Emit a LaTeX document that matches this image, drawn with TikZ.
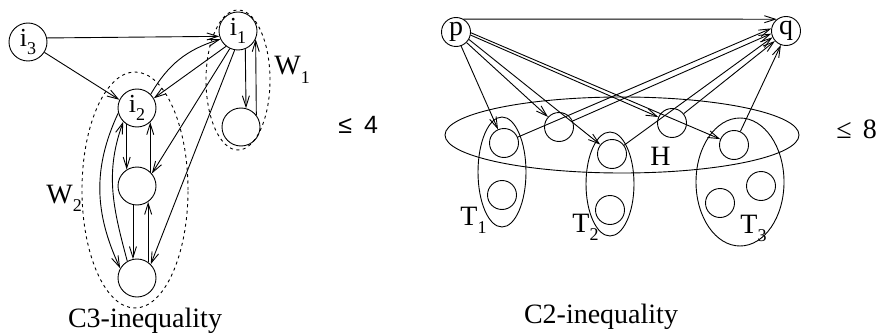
\documentclass[tikz,border=0pt]{standalone}
\usepackage{fontspec}
\setmainfont{Liberation Serif}
\newfontfamily\hvfont{Liberation Sans}
\usetikzlibrary{arrows.meta}

\newcommand{\lb}[2]{#1\raisebox{-0.32em}{\fontsize{18}{18}\selectfont #2}}

\begin{document}
\begin{tikzpicture}[x=1pt,y=1pt,line width=0.9pt,
    vx/.style={circle,draw,inner sep=0pt,minimum size=38pt,font=\fontsize{26}{26}\selectfont},
    hx/.style={circle,draw,inner sep=0pt,minimum size=29pt,font=\fontsize{28}{28}\selectfont},
    arr/.style={-{Straight Barb[length=11pt,width=7pt]}},
    grp/.style={draw,dash pattern=on 3pt off 3.5pt},
    txt/.style={font=\fontsize{28}{28}\selectfont,inner sep=0pt,anchor=base west}]
    \useasboundingbox (0,0) rectangle (877,-334);
    % C3 side
    \node[vx] (i3) at (28,-42) {\lb{i}{3}};
    \node[vx] (i1) at (238,-31) {\lb{i}{1}};
    \node[vx] (i2) at (137,-108) {\lb{i}{2}};
    \node[vx] (wa) at (241,-127) {};
    \node[vx] (ma) at (137,-186) {};
    \node[vx] (mb) at (137,-278) {};
    \draw[grp] (238,-80) ellipse [x radius=32pt,y radius=70pt];
    \draw[grp] (135,-190) ellipse [x radius=53pt,y radius=118pt];
    \node[txt] (w1) at (274,-75) {\lb{W}{1}};
    \node[txt] (w2) at (46,-203) {\lb{W}{2}};
    \draw[arr] (i3.12) -- (i1.196);
    \draw[arr] (i3) -- (i2.155);
    \draw[arr] (i2.45) to[out=60,in=197] (i1.205);
    \draw[arr] (i1.232) -- (i2.30);
    \draw[arr] (i1.-68) -- (wa.75);
    \draw[arr] (wa.38) -- (i1.-25);
    \draw[arr] (i1.-115) -- (ma.40);
    \draw[arr] (i1.-100) -- (mb.45);
    \draw[arr] (i2.-122) -- (ma.122);
    \draw[arr] (ma.47) -- (i2.-47);
    \draw[arr] (ma.-102) -- (mb.102);
    \draw[arr] (mb.55) -- (ma.-55);
    \draw[arr] (i2.195) to[out=245,in=115] (mb.150);
    \draw[arr] (mb.120) to[out=105,in=250] (i2.225);
    \node[txt,anchor=base] (c3) at (145,-327) {C3-inequality};
    \node[txt,font=\hvfont\fontsize{25}{25}\selectfont] (b4) at (338,-133) {≤\hspace{5pt} 4};
    % C2 side
    \node[hx] (p) at (456,-32) {p};
    \node[hx] (q) at (786,-31) {q};
    \node[hx] (h1) at (504,-143) {};
    \node[hx] (h2) at (559,-127) {};
    \node[hx] (h3) at (612,-154) {};
    \node[hx] (h4) at (672,-123) {};
    \node[hx] (h5) at (734,-145) {};
    \node[hx] (t1) at (502,-195) {};
    \node[hx] (t2) at (610,-210) {};
    \node[hx] (t3a) at (720,-203) {};
    \node[hx] (t3b) at (761,-186) {};
    \draw (622,-135) ellipse [x radius=177pt,y radius=38pt];
    \draw (502,-172) ellipse [x radius=24pt,y radius=55pt];
    \draw (610,-184) ellipse [x radius=24pt,y radius=52pt];
    \draw (740,-182) ellipse [x radius=44pt,y radius=64pt];
    \node[txt] (hl) at (650,-165) {H};
    \node[txt] (tl1) at (460,-225) {\lb{T}{1}};
    \node[txt] (tl2) at (572,-232) {\lb{T}{2}};
    \node[txt] (tl3) at (740,-233) {\lb{T}{3}};
    \draw[arr] (p.60) -- (q.128);
    \draw[arr] (p.-70) -- (h1);
    \draw[arr] (p.-45) -- (h2);
    \draw[arr] (p.-30) -- (h3);
    \draw[arr] (p.-12) -- (h4);
    \draw[arr] (p.-3) -- (h5);
    \draw[arr] (h1) -- (q.170);
    \draw[arr] (h2) -- (q.190);
    \draw[arr] (h3) -- (q.205);
    \draw[arr] (h4) -- (q.222);
    \draw[arr] (h5) -- (q.250);
    \node[txt,anchor=base] (c2) at (601,-323) {C2-inequality};
    \node[txt,font=\fontsize{28}{28}\selectfont] (b8) at (836,-138) {≤\hspace{4pt} 8};
\end{tikzpicture}
\end{document}
